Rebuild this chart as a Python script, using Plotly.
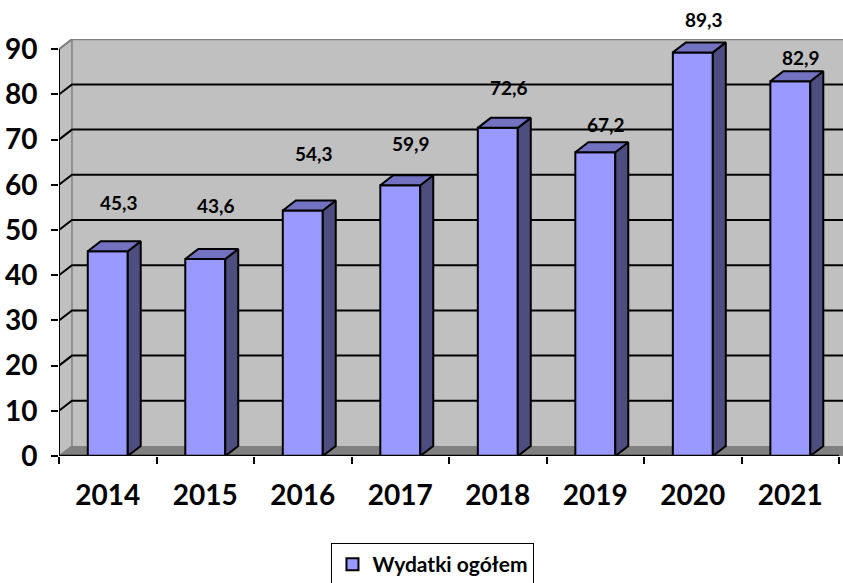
import plotly.graph_objects as go

# data
years = ["2014", "2015", "2016", "2017", "2018", "2019", "2020", "2021"]
wydatki = [45.3, 43.6, 54.3, 59.9, 72.6, 67.2, 89.3, 82.9]
y_ticks = [0, 10, 20, 30, 40, 50, 60, 70, 80, 90]

# labels were moved by hand in the original, lift above bar top in px
label_lift = [49, 53, 57, 42, 40, 28, 33, 24]

# 3d look
dx = 0.133      # depth offset in category units
dy = 2.21       # depth offset in value units
bw = 0.41       # bar width
x_max = 7.54
y_max = 92.26

FRONT = "#9999FF"
SIDE = "#4D4D80"
TOP = "#7272C0"
WALL = "#C0C0C0"
FLOOR = "#808080"
FONT = "Lato"

xs = list(range(len(years)))
fig = go.Figure()

# back wall, side wall and floor
shapes = [
    dict(type="path", xref="x", yref="y", layer="below",
         path=f"M{-0.5+dx},{dy} L{x_max+1},{dy} L{x_max+1},{90+dy} L{-0.5+dx},{90+dy} Z",
         fillcolor=WALL, line=dict(width=0)),
    dict(type="path", xref="x", yref="y", layer="below",
         path=f"M-0.5,0 L{-0.5+dx},{dy} L{-0.5+dx},{90+dy} L-0.5,90 Z",
         fillcolor=WALL, line=dict(color=FLOOR, width=1.5)),
    dict(type="path", xref="x", yref="y", layer="below",
         path=f"M-0.5,0 L{-0.5+dx},{dy} L{x_max+1},{dy} L{x_max+1},0 Z",
         fillcolor=FLOOR, line=dict(width=0)),
    # top edge of wall
    dict(type="path", xref="x", yref="y", layer="below",
         path=f"M-0.5,90 L{-0.5+dx},{90+dy} L{x_max+1},{90+dy}",
         line=dict(color=FLOOR, width=2)),
]
# gridlines on the back wall
for v in y_ticks[1:-1]:
    shapes.append(dict(type="path", xref="x", yref="y", layer="below",
                       path=f"M-0.5,{v} L{-0.5+dx},{v+dy} L{x_max+1},{v+dy}",
                       line=dict(color="black", width=2)))
# front axes
shapes.append(dict(type="line", xref="x", yref="y", layer="above",
                   x0=-0.5, x1=-0.5, y0=0, y1=90, line=dict(color="black", width=2)))
shapes.append(dict(type="line", xref="x", yref="y", layer="above",
                   x0=-0.5, x1=7.5, y0=0, y1=0, line=dict(color="black", width=2.5)))

# front faces
fig.add_trace(go.Bar(
    x=xs, y=wydatki, width=bw, name="Wydatki ogółem",
    marker=dict(color=FRONT, line=dict(color="black", width=2)),
    hoverinfo="skip",
))

# side and top faces
for x, v in zip(xs, wydatki):
    l, r = x - bw / 2, x + bw / 2
    fig.add_trace(go.Scatter(
        x=[r, r + dx, r + dx, r, r], y=[0, dy, v + dy, v, 0],
        fill="toself", fillcolor=SIDE, mode="lines",
        line=dict(color="black", width=2), showlegend=False, hoverinfo="skip"))
    fig.add_trace(go.Scatter(
        x=[l, l + dx, r + dx, r, l], y=[v, v + dy, v + dy, v, v],
        fill="toself", fillcolor=TOP, mode="lines",
        line=dict(color="black", width=2), showlegend=False, hoverinfo="skip"))

# value labels
for x, v, lift in zip(xs, wydatki, label_lift):
    fig.add_annotation(x=x, y=v, xshift=11, yshift=lift,
                       text=f"{v:.1f}".replace(".", ","),
                       showarrow=False, yanchor="middle",
                       font=dict(family=FONT, size=19, color="black", weight="bold"))

fig.update_layout(
    width=843, height=583,
    margin=dict(l=59, r=0, t=39, b=127, autoexpand=False),
    plot_bgcolor="white", paper_bgcolor="white",
    shapes=shapes,
    showlegend=True,
    legend=dict(orientation="h", xref="container", yref="container",
                x=0.5136, xanchor="center", y=0.0686, yanchor="top",
                bordercolor="black", borderwidth=1, bgcolor="white",
                font=dict(family=FONT, size=21, color="black", weight="bold")),
    xaxis=dict(range=[-0.5, x_max], tickmode="array", tickvals=xs, ticktext=years,
               ticks="", showgrid=False, zeroline=False, showline=False,
               automargin=False, ticklabelstandoff=20,
               tickfont=dict(family=FONT, size=28, color="black", weight="bold"),
               minor=dict(ticks="outside", tickmode="array",
                          tickvals=[i - 0.5 for i in range(len(years) + 1)],
                          ticklen=7, tickwidth=2, tickcolor="black", showgrid=False)),
    yaxis=dict(range=[0, y_max], tickmode="array", tickvals=y_ticks,
               ticks="outside", ticklen=7, tickwidth=2, tickcolor="black",
               showgrid=False, zeroline=False, showline=False,
               automargin=False, ticklabelstandoff=8,
               tickfont=dict(family=FONT, size=28, color="black", weight="bold")),
)

# drop the browser's default body margin so the figure fills the window
fig.write_html("out.html", config={"displayModeBar": False},
               post_script="document.body.style.margin = '0';")
